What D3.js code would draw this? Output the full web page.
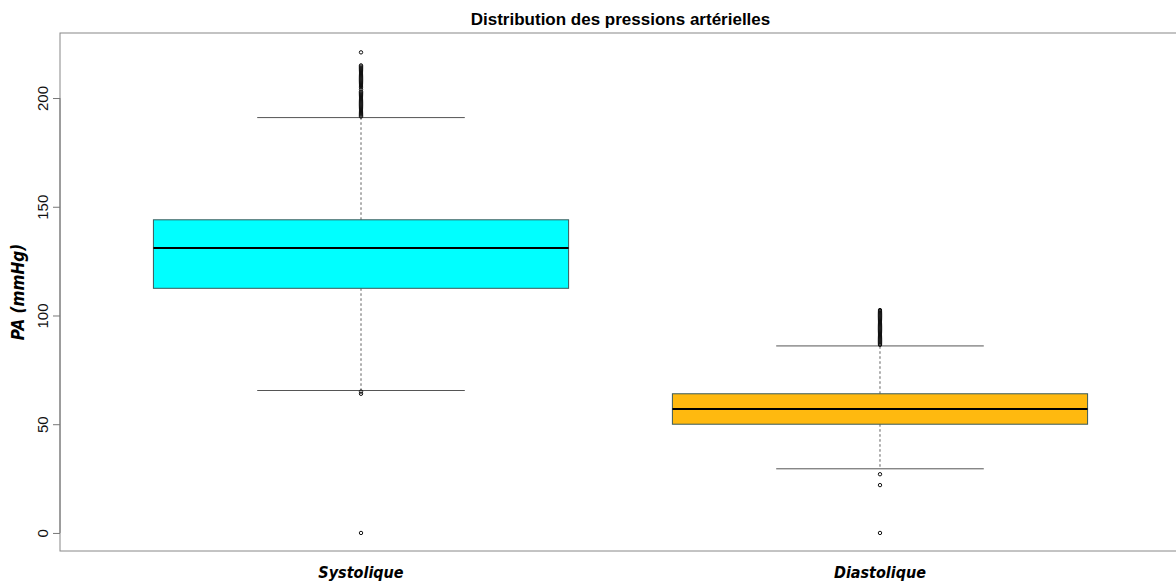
<!DOCTYPE html>
<html>
<head>
<meta charset="utf-8">
<script src="https://d3js.org/d3.v7.min.js"></script>
<style>
  body { margin: 0; background: #fff; }
  svg { display: block; }
</style>
</head>
<body>
<div id="chart"></div>
<script>
// values
var categories = ["Systolique", "Diastolique"];
var colors = ["#00FFFF", "#FFB90F"];
var q1 = [112.5, 50];
var medians = [131, 57];
var q3 = [144, 64];
var whiskerLow = [65.5, 29.5];
var whiskerHigh = [191, 86];
// dense runs of outliers (values recorded at half-mmHg steps)
var outSys = [0, 64, 65, 191.5, 192, 192.5, 193, 193.5, 194, 194.5, 195, 195.5, 196, 196.5,
              197, 197.5, 198, 198.5, 199, 199.5, 200, 200.5, 201, 201.5, 202, 202.5, 203,
              204, 205, 205.5, 206, 206.5, 207, 207.5, 208, 208.5, 209, 209.5, 210, 210.5,
              211, 211.5, 212, 212.5, 213, 213.5, 214, 214.5, 215, 221];
var outDia = [0, 22, 27, 86.5, 87, 87.5, 88, 88.5, 89, 89.5, 90, 90.5, 91, 91.5, 92, 92.5,
              93, 93.5, 94, 94.5, 95, 95.5, 96, 96.5, 97, 97.5, 98, 98.5, 99, 99.5, 100,
              100.5, 101, 101.5, 102, 102.5];
var yTicks = [0, 50, 100, 150, 200];

var W = 1176, H = 586;
var plot = {left: 60, right: 1181, top: 33, bottom: 551};

var svg = d3.select("#chart").append("svg")
  .attr("width", W)
  .attr("height", H);

var x = d3.scaleLinear().domain([0.42, 2.58]).range([plot.left, plot.right]);
var y = d3.scaleLinear().domain([-8.3, 229.9]).range([plot.bottom, plot.top]);

var boxes = categories.map(function(c, i) {
  return {name: c, pos: i + 1, color: colors[i], q1: q1[i], med: medians[i], q3: q3[i],
          lo: whiskerLow[i], hi: whiskerHigh[i], out: i == 0 ? outSys : outDia};
});

var g = svg.selectAll("g.box").data(boxes).enter().append("g").attr("class", "box");

// dashed whiskers
[["q3", "hi"], ["q1", "lo"]].forEach(function(p) {
  g.append("line")
    .attr("x1", function(d) { return x(d.pos); })
    .attr("x2", function(d) { return x(d.pos); })
    .attr("y1", function(d) { return y(d[p[0]]); })
    .attr("y2", function(d) { return y(d[p[1]]); })
    .attr("stroke", "#333").attr("stroke-width", 0.8).attr("stroke-dasharray", "2.5,2.5");
});

// caps
["lo", "hi"].forEach(function(k) {
  g.append("line")
    .attr("x1", function(d) { return x(d.pos - 0.2); })
    .attr("x2", function(d) { return x(d.pos + 0.2); })
    .attr("y1", function(d) { return y(d[k]); })
    .attr("y2", function(d) { return y(d[k]); })
    .attr("stroke", "#555").attr("stroke-width", 1);
});

// boxes
g.append("rect")
  .attr("x", function(d) { return x(d.pos - 0.4); })
  .attr("width", function(d) { return x(d.pos + 0.4) - x(d.pos - 0.4); })
  .attr("y", function(d) { return y(d.q3); })
  .attr("height", function(d) { return y(d.q1) - y(d.q3); })
  .attr("fill", function(d) { return d.color; })
  .attr("stroke", "#3a5a5a").attr("stroke-width", 1);

// medians
g.append("line")
  .attr("x1", function(d) { return x(d.pos - 0.4); })
  .attr("x2", function(d) { return x(d.pos + 0.4); })
  .attr("y1", function(d) { return y(d.med); })
  .attr("y2", function(d) { return y(d.med); })
  .attr("stroke", "#000").attr("stroke-width", 2);

// outliers
g.each(function(d) {
  d3.select(this).selectAll("circle").data(d.out).enter().append("circle")
    .attr("cx", x(d.pos))
    .attr("cy", function(v) { return y(v); })
    .attr("r", 1.7)
    .attr("fill", "none")
    .attr("stroke", "#111").attr("stroke-width", 1);
});

// frame
svg.append("rect")
  .attr("x", plot.left).attr("y", plot.top)
  .attr("width", plot.right - plot.left).attr("height", plot.bottom - plot.top)
  .attr("fill", "none").attr("stroke", "#888").attr("stroke-width", 1);

// y axis
var yAxis = svg.append("g")
  .attr("transform", "translate(" + plot.left + ",0)")
  .call(d3.axisLeft(y).tickValues(yTicks).tickSize(7).tickSizeOuter(0));
yAxis.select(".domain").remove();
yAxis.selectAll(".tick line").attr("stroke", "#777");
yAxis.selectAll(".tick text")
  .attr("x", 0).attr("dy", 0)
  .attr("transform", "translate(-12,0) rotate(-90)")
  .attr("text-anchor", "middle")
  .style("font-family", "Liberation Sans, Arial, sans-serif")
  .style("font-size", "15px")
  .attr("fill", "#111");
svg.append("line")
  .attr("x1", plot.left).attr("x2", plot.left)
  .attr("y1", y(0)).attr("y2", y(200))
  .attr("stroke", "#777");

// x labels
svg.selectAll("text.xlab").data(boxes).enter().append("text")
  .attr("class", "xlab")
  .attr("x", function(d) { return x(d.pos); })
  .attr("y", 578)
  .attr("text-anchor", "middle")
  .style("font-family", "Liberation Sans Narrow, DejaVu Sans Condensed, sans-serif")
  .style("font-weight", "bold")
  .style("font-style", "italic")
  .style("font-size", "16px")
  .text(function(d) { return d.name; });

// y title
svg.append("text")
  .attr("transform", "translate(24," + ((plot.top + plot.bottom) / 2) + ") rotate(-90)")
  .attr("text-anchor", "middle")
  .style("font-family", "Liberation Sans Narrow, DejaVu Sans Condensed, sans-serif")
  .style("font-weight", "bold")
  .style("font-style", "italic")
  .style("font-size", "17px")
  .text("PA (mmHg)");

// title
svg.append("text")
  .attr("x", (plot.left + plot.right) / 2)
  .attr("y", 25)
  .attr("text-anchor", "middle")
  .style("font-family", "Liberation Sans, Arial, sans-serif")
  .style("font-weight", "bold")
  .style("font-size", "17px")
  .text("Distribution des pressions artérielles");
</script>
</body>
</html>
